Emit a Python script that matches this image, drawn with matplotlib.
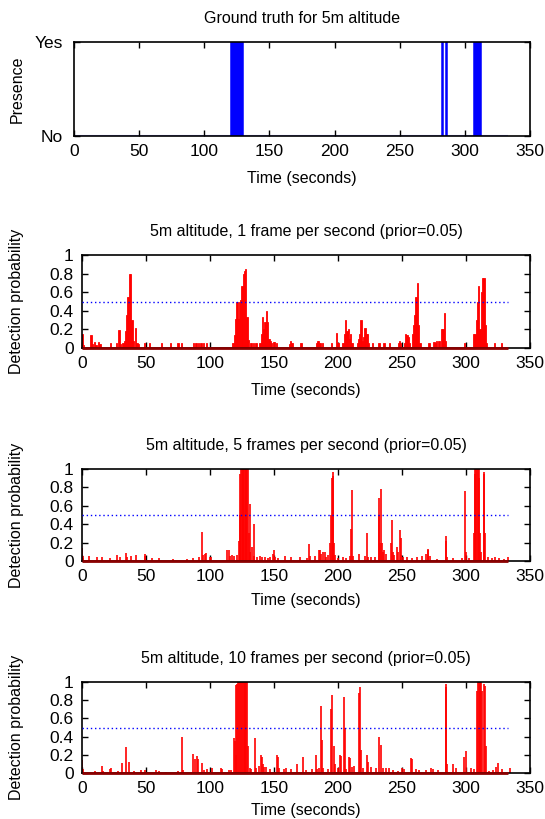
import matplotlib
matplotlib.use("Agg")
import matplotlib.pyplot as plt
import numpy as np

plt.rcParams['font.family'] = ['Liberation Sans', 'DejaVu Sans']

# ---------------- data ----------------
xticks = [0, 50, 100, 150, 200, 250, 300, 350]
yticks = [0, 0.2, 0.4, 0.6, 0.8, 1]
ytick_labels = ['0', '0.2', '0.4', '0.6', '0.8', '1']
threshold = 0.5
t_end = 333

# ground truth presence intervals (seconds)
gt_start = [120.6, 282.8, 285.9, 306.7]
gt_end = [129.5, 283.4, 286.5, 312.5]

# 1 frame per second
t1 = [0, 1, 7, 8, 10, 11, 13, 14, 22, 27, 29, 30, 32, 33, 34, 35, 36, 37, 38, 39, 40, 42, 43, 44,
      49, 53, 62, 69, 75, 78, 87, 89, 91, 93, 95, 97,
      118, 119, 120, 121, 122, 123, 124, 125, 126, 127, 128, 129, 130,
      132, 134, 136, 139, 140, 141, 142, 143, 144, 145, 146, 147, 148, 150, 152,
      162, 163, 164, 171, 183, 184, 185, 186, 188, 195, 199, 200,
      204, 205, 206, 207, 208, 209, 210, 211, 215, 216, 217, 218, 219, 220, 221, 222, 223, 224,
      227, 232, 236, 240,
      247, 248, 249, 252, 253, 254, 255, 256, 258, 259, 260, 261, 262, 263, 264,
      271, 275, 276, 277, 279, 281, 282, 283, 284,
      299, 306, 307, 308, 309, 310, 311, 312, 313, 314, 315, 316, 322, 328]
p1 = [0.15, 0.03, 0.14, 0.04, 0.06, 0.03, 0.06, 0.04, 0.05, 0.05, 0.19, 0.04, 0.05, 0.08, 0.18, 0.36, 0.55, 0.80, 0.80, 0.30, 0.08, 0.22, 0.05, 0.04,
      0.05, 0.05, 0.05, 0.05, 0.05, 0.05, 0.05, 0.05, 0.05, 0.05, 0.05, 0.05,
      0.05, 0.14, 0.31, 0.50, 0.31, 0.50, 0.52, 0.67, 0.80, 0.83, 0.85, 0.33, 0.09,
      0.05, 0.05, 0.05, 0.05, 0.15, 0.33, 0.20, 0.28, 0.40, 0.28, 0.10, 0.07, 0.05, 0.06, 0.05,
      0.04, 0.07, 0.05, 0.05, 0.05, 0.07, 0.08, 0.05, 0.05, 0.05, 0.16, 0.05,
      0.05, 0.15, 0.30, 0.18, 0.20, 0.10, 0.15, 0.05, 0.05, 0.10, 0.15, 0.30, 0.08, 0.12, 0.22, 0.15, 0.15, 0.05,
      0.05, 0.05, 0.05, 0.05,
      0.05, 0.07, 0.05, 0.05, 0.15, 0.14, 0.12, 0.05, 0.15, 0.25, 0.35, 0.55, 0.70, 0.25, 0.05,
      0.05, 0.06, 0.05, 0.08, 0.07, 0.20, 0.20, 0.38, 0.08,
      0.05, 0.15, 0.15, 0.30, 0.50, 0.67, 0.20, 0.60, 0.75, 0.75, 0.25, 0.05, 0.05, 0.05]

# 5 frames per second
t5 = [0.0, 0.4, 1.0, 5.5, 12, 16, 22, 27, 30, 34.7, 35.5, 38, 41.8, 49, 49.6, 55, 60, 71, 82, 87, 91.5,
      94, 94.6, 96, 97, 100, 100.6,
      113.5, 114.8, 115.5, 117, 118.4, 121, 122.4, 123.2, 123.8, 124.3, 124.9, 125.5, 126.1, 126.7,
      127.3, 127.9, 128.5, 129.1, 129.7, 130.3, 131.0, 131.6, 133.2, 134.0, 134.6, 137, 139, 141,
      143, 145.5, 147, 149.5, 150.2, 151, 153, 158.5, 163, 170, 176, 177.6, 178.2, 181.8, 185.5,
      186.3, 187, 188, 190, 191, 192.5, 194, 194.6, 195.2, 195.8, 196.4, 197, 197.6, 200, 204, 206,
      209.5, 210.5, 211.2, 211.8, 216.5, 221, 222.6, 223.2, 226, 229, 231.8, 232.4, 233.0, 233.8,
      234.4, 235.2, 236, 237.5, 241.5, 242.5, 243.2, 244, 246, 247, 248.3, 248.9, 249.5, 251, 254,
      258, 262, 266, 269, 270, 270.6, 272, 277, 284, 284.6, 285.5, 290, 297, 299.4, 300, 302,
      306.2, 306.8, 307.4, 308.0, 308.6, 309.2, 309.8, 310.4, 311, 311.6, 313.8, 314.4, 315, 317,
      320, 323, 326, 330, 333]
p5 = [0.14, 0.05, 0.03, 0.05, 0.04, 0.04, 0.03, 0.06, 0.04, 0.09, 0.04, 0.05, 0.06, 0.08, 0.05, 0.03, 0.03, 0.02, 0.02, 0.03, 0.04,
      0.31, 0.06, 0.08, 0.09, 0.04, 0.04,
      0.12, 0.12, 0.05, 0.06, 0.05, 0.06, 0.22, 0.50, 0.95, 1.0, 1.0, 1.0, 1.0, 1.0,
      1.0, 1.0, 1.0, 1.0, 1.0, 0.30, 0.62, 0.10, 0.15, 0.40, 0.05, 0.04, 0.05, 0.04,
      0.04, 0.03, 0.04, 0.08, 0.12, 0.04, 0.03, 0.05, 0.04, 0.04, 0.03, 0.18, 0.05, 0.05, 0.12,
      0.12, 0.08, 0.10, 0.10, 0.04, 0.06, 0.20, 0.50, 0.90, 0.97, 0.92, 0.20, 0.06, 0.03, 0.04, 0.03,
      0.05, 0.35, 0.77, 0.05, 0.08, 0.05, 0.30, 0.04, 0.04, 0.04, 0.68, 0.50, 0.20, 0.78,
      0.20, 0.10, 0.12, 0.08, 0.20, 0.45, 0.10, 0.06, 0.15, 0.10, 0.34, 0.25, 0.06, 0.04, 0.04,
      0.03, 0.04, 0.05, 0.08, 0.13, 0.12, 0.05, 0.02, 0.27, 0.22, 0.04, 0.03, 0.03, 0.76, 0.10, 0.03,
      0.30, 0.95, 1.0, 1.0, 1.0, 1.0, 1.0, 0.90, 0.30, 0.10, 0.97, 0.95, 0.30, 0.04,
      0.03, 0.04, 0.03, 0.02, 0.04]

# 10 frames per second
t10 = [0, 0.5, 10.5, 15.3, 16.5, 21.9, 22.7, 28, 31, 34, 37, 41, 46, 49, 58, 60, 66, 75, 77.9, 79,
       86.6, 88, 90, 91, 94, 95.5, 98, 101.6, 108.5, 109.3, 114.7, 116.6,
       118.7, 119.4, 120.0, 120.7, 121.4, 122.1, 122.8, 123.5, 124.2, 124.9, 125.6, 126.3, 127.0,
       127.7, 128.4, 129.1, 129.8, 131, 132,
       135, 136.2, 138.4, 139.8, 140.8, 141.5, 142.5, 143.5, 147, 152, 152.8, 154, 158, 159.3, 163,
       168, 172.7, 175, 180, 182.5, 183.8, 185.5, 186.6, 187.4, 188.2, 192, 194.8, 195.6, 196.6,
       197.4, 200, 201.5, 202.3, 204.4, 205.2, 206.6, 208.5, 209.3, 211.2, 212.6, 216.2, 217, 218,
       219.4, 222.6, 223.4, 225.4, 229.5, 232.2, 233.6, 235, 237.5, 239.8, 243, 247, 250, 251.8,
       257.3, 258.1, 260.8, 263.5, 269, 273, 274.4, 278.5, 284, 284.6, 285.4, 289.6, 292.3, 298.6,
       299.8, 303.8, 306, 308.6, 309.2, 309.9, 310.6, 311.3, 312.0, 312.7, 313.7, 314.5, 315.3,
       318.2, 321, 323.8, 325.2, 328, 334.5]
p10 = [0.14, 0.04, 0.02, 0.08, 0.02, 0.04, 0.05, 0.02, 0.11, 0.29, 0.12, 0.02, 0.03, 0.03, 0.03, 0.02, 0.01, 0.02, 0.40, 0.03,
       0.21, 0.15, 0.19, 0.15, 0.11, 0.03, 0.04, 0.06, 0.05, 0.04, 0.03, 0.03,
       0.38, 0.35, 0.20, 0.97, 0.98, 1.0, 1.0, 1.0, 1.0, 1.0, 1.0, 1.0, 1.0,
       1.0, 1.0, 1.0, 0.30, 0.05, 0.04,
       0.39, 0.05, 0.08, 0.20, 0.18, 0.10, 0.07, 0.07, 0.04, 0.20, 0.18, 0.06, 0.04, 0.06, 0.04,
       0.10, 0.18, 0.03, 0.04, 0.20, 0.04, 0.05, 0.74, 0.36, 0.05, 0.04, 0.70, 0.86, 0.30,
       0.10, 0.05, 0.20, 0.19, 0.84, 0.50, 0.04, 0.18, 0.17, 0.07, 0.08, 0.88, 0.94, 0.25,
       0.05, 0.20, 0.12, 0.07, 0.06, 0.40, 0.31, 0.06, 0.05, 0.06, 0.03, 0.02, 0.05, 0.04,
       0.17, 0.15, 0.04, 0.03, 0.03, 0.06, 0.04, 0.03, 0.95, 0.98, 0.10, 0.10, 0.06, 0.18,
       0.24, 0.05, 0.04, 0.90, 1.0, 1.0, 1.0, 1.0, 1.0, 0.90, 0.98, 0.96, 0.30,
       0.02, 0.03, 0.07, 0.11, 0.04, 0.06]

titles = ['Ground truth for 5m altitude',
          '5m altitude, 1 frame per second (prior=0.05)',
          '5m altitude, 5 frames per second (prior=0.05)',
          '5m altitude, 10 frames per second (prior=0.05)']

# ---------------- figure ----------------
W, H = 545, 819
fig = plt.figure(figsize=(W / 100, H / 100), dpi=100)

# (left, top, right, bottom) in pixels
boxes = [(74, 42, 530, 136), (82, 255, 530, 348), (82, 469, 530, 561), (82, 682, 530, 773)]
xlabel_y = [178, 390, 601, 811]
ylabel_x = 17

RED = '#ff0000'
BLUE = '#0000ff'

def add_axes(box):
    l, t, r, b = box
    return fig.add_axes([l / W, (H - b) / H, (r - l) / W, (b - t) / H])

def style(ax, idx):
    l, t, r, b = boxes[idx]
    ax.set_xlim(0, 350)
    ax.set_xticks(xticks)
    ax.set_xticklabels([str(v) for v in xticks])
    ax.tick_params(direction='in', top=True, right=True, length=4, width=1,
                   labelsize=12.5, pad=6)
    for s in ax.spines.values():
        s.set_linewidth(1.2)
    ax.set_title(titles[idx], fontsize=11.5, pad=14)
    ax.set_xlabel('Time (seconds)', fontsize=11.5, va='center')
    ax.xaxis.set_label_coords(0.5, -(xlabel_y[idx] - b) / (b - t))
    ax.yaxis.set_label_coords((ylabel_x - l) / (r - l), 0.5)

# Panel 1: ground truth
ax = add_axes(boxes[0])
centers = [(a + b) / 2 for a, b in zip(gt_start, gt_end)]
widths = [b - a for a, b in zip(gt_start, gt_end)]
ax.hlines(0, 0, t_end, color='#9999ff', lw=1.5, zorder=1)
ax.bar(centers, [1] * len(centers), width=widths, color=BLUE, edgecolor=BLUE,
       linewidth=1.1, zorder=2)
ax.set_ylim(0, 1)
ax.set_yticks([0, 1])
ax.set_yticklabels(['No', 'Yes'])
ax.set_ylabel('Presence', fontsize=11.5, va='center')
style(ax, 0)
ax.tick_params(axis='y', pad=8)

# Panels 2-4
series = [(t1, p1, 'bar'), (t5, p5, 'line'), (t10, p10, 'line')]
for k, (tt, pp, kind) in enumerate(series, start=1):
    ax = add_axes(boxes[k])
    if kind == 'bar':
        ax.bar(tt, pp, width=1.0, color=RED, edgecolor=RED, linewidth=0.6, zorder=2)
    else:
        ax.vlines(tt, 0, pp, color=RED, lw=1.2, zorder=2)
    ax.hlines(0, 0, t_end, color='#8b0000', lw=2.0, zorder=3, clip_on=False)
    ax.hlines(threshold, 0, t_end, color=BLUE, lw=1.0, linestyles=(0, (1, 2)), zorder=4)
    ax.set_ylim(0, 1)
    ax.set_yticks(yticks)
    ax.set_yticklabels(ytick_labels)
    ax.set_ylabel('Detection probability', fontsize=11.5, va='center')
    style(ax, k)

fig.savefig('out.png', dpi=100)
